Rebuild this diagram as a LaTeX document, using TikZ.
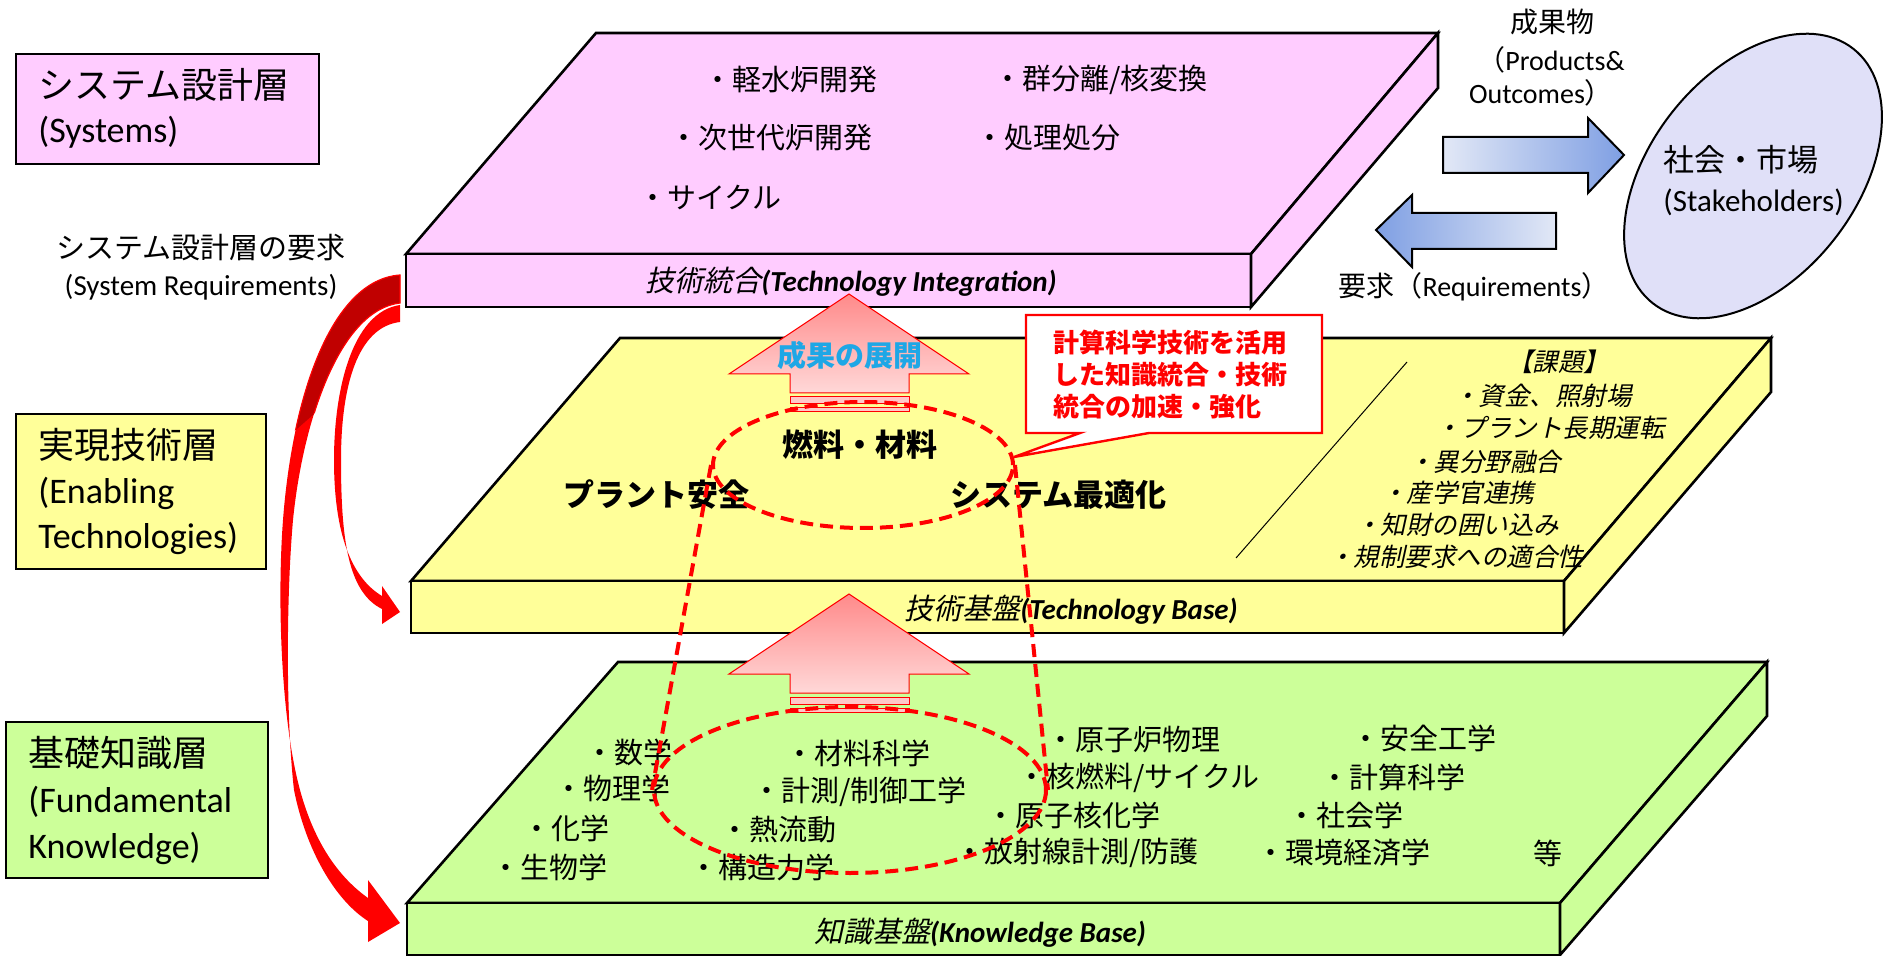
\documentclass[tikz,border=0pt]{standalone}
\usepackage{fontspec}
\setmainfont{Carlito}
\newfontfamily\jp{Noto Sans CJK JP}
\newfontfamily\jpi{Noto Sans CJK JP}[FakeSlant=0.22]
\usetikzlibrary{shapes.geometric}
\definecolor{pinkf}{HTML}{FFCCFF}
\definecolor{yelf}{HTML}{FFFF99}
\definecolor{grnf}{HTML}{CCFF99}
\definecolor{lav}{HTML}{E0E0F8}
\definecolor{bluedark}{HTML}{7F9FE3}
\definecolor{bluelight}{HTML}{E2E8F6}
\definecolor{darkred}{HTML}{C00000}
\definecolor{cyanb}{HTML}{1EA7E6}
\definecolor{arrowtop}{HTML}{FF8A8A}
\definecolor{arrowbot}{HTML}{FFD8D8}
\definecolor{stripef}{HTML}{FFC8C8}
\newcommand\fsA{\fontsize{14.5}{17}\selectfont}
\newcommand\fsB{\fontsize{18}{21}\selectfont}
\newcommand\fsC{\fontsize{15.5}{18}\selectfont}
\newcommand\fsD{\fontsize{13}{16}\selectfont}
\newcommand\fsE{\fontsize{12.75}{15}\selectfont}
\newcommand\fsF{\fontsize{14}{17}\selectfont}
\newcommand\arrowonepath{(400,275) .. controls (330,280) and (292,400) .. (283,520) .. controls (277,600) and (281,720) .. (300,790) .. controls (315,845) and (340,878) .. (368,898) -- (368,880) -- (400,923) -- (368,942) -- (368,921) .. controls (335,900) and (306,850) .. (294,790) .. controls (286,720) and (286,600) .. (293,520) .. controls (303,420) and (340,310) .. (400,303) -- cycle}
\begin{document}
\begin{tikzpicture}[x=0.5pt,y=-0.5pt,
  slab/.style={draw=black, line width=1.3pt, line join=miter},
  lbox/.style={draw=black, line width=1pt},
  txt/.style={inner sep=0pt, anchor=west, font=\jp\fsA},
  bigt/.style={inner sep=0pt, anchor=west, font=\fsB},
  flab/.style={inner sep=0pt, font=\fsA\bfseries\itshape},
  boldt/.style={inner sep=0pt, font=\jp\fsC\bfseries},
  kadai/.style={inner sep=0pt, anchor=west, font=\jpi\fsE},
  rdash/.style={draw=red, line width=2pt, dash pattern=on 6.5pt off 3.5pt},
  blockarr/.style={draw=red, line width=0.5pt, top color=arrowtop, bottom color=arrowbot},
  stripe/.style={draw=red, line width=0.5pt, fill=stripef},
  bluearr/.style={draw=black, line width=1pt}
]
\useasboundingbox (0,0) rectangle (1894,956);

% ---------- pink slab ----------
\coordinate (pA) at (406,254); \coordinate (pB) at (596,33);
\coordinate (pC) at (1438,33); \coordinate (pD) at (1251,254);
\coordinate (pE) at (1251,307); \coordinate (pG) at (1438,88);
\filldraw[slab, fill=pinkf] (pA) -- (pB) -- (pC) -- (pD) -- cycle;
\filldraw[slab, fill=pinkf] (pA) rectangle (pE);
\filldraw[slab, fill=pinkf] (pD) -- (pC) -- (pG) -- (pE) -- cycle;

% ---------- yellow slab ----------
\coordinate (yA) at (411,581); \coordinate (yB) at (620,338);
\coordinate (yC) at (1771,338); \coordinate (yD) at (1564,581);
\coordinate (yE) at (1564,633); \coordinate (yG) at (1771,392);
\filldraw[slab, fill=yelf] (yA) -- (yB) -- (yC) -- (yD) -- cycle;
\filldraw[slab, fill=yelf] (yA) rectangle (yE);
\filldraw[slab, fill=yelf] (yD) -- (yC) -- (yG) -- (yE) -- cycle;

% ---------- green slab ----------
\coordinate (gA) at (407,903); \coordinate (gB) at (618,662);
\coordinate (gC) at (1767,662); \coordinate (gD) at (1560,903);
\coordinate (gE) at (1560,955); \coordinate (gG) at (1767,716);
\filldraw[slab, fill=grnf] (gA) -- (gB) -- (gC) -- (gD) -- cycle;
\filldraw[slab, fill=grnf] (gA) rectangle (gE);
\filldraw[slab, fill=grnf] (gD) -- (gC) -- (gG) -- (gE) -- cycle;

% ---------- pink slab texts ----------
\node[txt] (p1) at (703,80) {・軽水炉開発};
\node[txt] (p2) at (993,80) {・群分離/核変換};
\node[txt] (p3) at (669,138) {・次世代炉開発};
\node[txt] (p4) at (975,138) {・処理処分};
\node[txt] (p5) at (638,197) {・サイクル};
\node[flab] (pl) at (851,282) {{\jpi\mdseries 技術統合}(Technology Integration)};

% ---------- yellow slab texts ----------
\node[boldt] (fuel) at (860,445) {燃料・材料};
\node[boldt, anchor=west] (plant) at (563,495) {プラント安全};
\node[boldt, anchor=west] (sysopt) at (950,495) {システム最適化};
\node[flab] (yl) at (1071,610) {{\jpi\mdseries 技術基盤}(Technology Base)};
\coordinate (dl1) at (1407,362); \coordinate (dl2) at (1236,558);
\draw[line width=0.5pt] (dl1) -- (dl2);
\node[kadai] (k0) at (1507,362) {【課題】};
\node[kadai] (k1) at (1453,396) {・資金、照射場};
\node[kadai] (k2) at (1435,428) {・プラント長期運転};
\node[kadai] (k3) at (1408,462) {・異分野融合};
\node[kadai] (k4) at (1381,493) {・産学官連携};
\node[kadai] (k5) at (1355,525) {・知財の囲い込み};
\node[kadai] (k6) at (1328,557) {・規制要求への適合性};

% ---------- green slab texts ----------
\node[txt] (g1) at (585,752) {・数学};
\node[txt] (g2) at (554,788) {・物理学};
\node[txt] (g3) at (522,828) {・化学};
\node[txt] (g4) at (491,867) {・生物学};
\node[txt] (g5) at (785,753) {・材料科学};
\node[txt] (g6) at (752,792) {・計測/制御工学};
\node[txt] (g7) at (720,830) {・熱流動};
\node[txt] (g8) at (689,867) {・構造力学};
\node[txt] (g9) at (1046,740) {・原子炉物理};
\node[txt] (g10) at (1017,778) {・核燃料/サイクル};
\node[txt] (g11) at (986,815) {・原子核化学};
\node[txt] (g12) at (955,853) {・放射線計測/防護};
\node[txt] (g13) at (1351,738) {・安全工学};
\node[txt] (g14) at (1320,777) {・計算科学};
\node[txt] (g15) at (1287,815) {・社会学};
\node[txt] (g16) at (1256,853) {・環境経済学};
\node[txt] (g17) at (1533,853) {等};
\node[flab] (gl) at (980,933) {{\jpi\mdseries 知識基盤}(Knowledge Base)};

% ---------- left label boxes ----------
\draw[lbox, fill=pinkf] (16,54) rectangle (319,164);
\node[bigt, font=\jp\fsB] (s1) at (38,85) {システム設計層};
\node[bigt] (s2) at (38,132) {(Systems)};
\draw[lbox, fill=yelf] (16,414) rectangle (266,569);
\node[bigt, font=\jp\fsB] (e1t) at (38,445) {実現技術層};
\node[bigt] (e2t) at (38,493) {(Enabling};
\node[bigt] (e3t) at (38,538) {Technologies)};
\draw[lbox, fill=grnf] (6,722) rectangle (268,878);
\node[bigt, font=\jp\fsB] (f1) at (28,753) {基礎知識層};
\node[bigt] (f2) at (28,802) {(Fundamental};
\node[bigt] (f3) at (28,848) {Knowledge)};
\node[inner sep=0pt, font=\jp\fsA] (req1) at (201,248) {システム設計層の要求};
\node[inner sep=0pt, font=\fsA] (req2) at (201,287) {(System Requirements)};

% ---------- red curved arrows ----------
\fill[red] \arrowonepath;
\begin{scope}
  \clip (250,260) -- (410,260) -- (410,330) -- (250,470) -- cycle;
  \filldraw[fill=darkred, draw=red, line width=0.6pt] \arrowonepath;
\end{scope}
\fill[red] (400,305) .. controls (352,312) and (334,390) .. (334,460) .. controls (334,535) and (352,578) .. (382,596) -- (382,586) -- (400,612) -- (382,624) -- (382,609) .. controls (348,592) and (341,540) .. (341,460) .. controls (341,385) and (358,327) .. (400,322) -- cycle;

% ---------- block arrows ----------
\path[blockarr] (849,294) -- (969,374) -- (909,374) -- (909,393) -- (790,393) -- (790,374) -- (729,374) -- cycle;
\filldraw[stripe] (790,397) rectangle (909,404);
\filldraw[stripe] (790,408) rectangle (909,412);
\node[inner sep=0pt, font=\jp\fsA\bfseries, text=cyanb] (tenkai) at (850,355) {成果の展開};
\path[blockarr] (849,594) -- (969,674) -- (909,674) -- (909,693) -- (790,693) -- (790,674) -- (729,674) -- cycle;
\filldraw[stripe] (790,697) rectangle (909,704);
\filldraw[stripe] (790,708) rectangle (909,712);

% ---------- dashed cylinder ----------
\node[ellipse, rdash, minimum width=150pt, minimum height=63pt, inner sep=0pt] (eup) at (863,465) {};
\node[ellipse, rdash, minimum width=196pt, minimum height=83pt, inner sep=0pt] (elo) at (850,790) {};
\draw[rdash] (eup.west) -- (elo.west);
\draw[rdash] (eup.east) -- (elo.east);

% ---------- callout ----------
\coordinate (ctip) at (1014,457);
\filldraw[draw=red, line width=1.2pt, fill=white] (1026,315) -- (1322,315) -- (1322,433) -- (1149,433) -- (ctip) -- (1080,433) -- (1026,433) -- cycle;
\node[inner sep=0pt, anchor=west, font=\jp\fsD\bfseries, text=red] (c1) at (1053,343) {計算科学技術を活用};
\node[inner sep=0pt, anchor=west, font=\jp\fsD\bfseries, text=red] (c2) at (1053,375) {した知識統合・技術};
\node[inner sep=0pt, anchor=west, font=\jp\fsD\bfseries, text=red] (c3) at (1053,407) {統合の加速・強化};

% ---------- right side ----------
\node[ellipse, draw=black, line width=1pt, fill=lav, minimum width=162pt, minimum height=103pt, inner sep=0pt, rotate=51.7] (stake) at (1753,176) {};
\node[inner sep=0pt, anchor=west, font=\jp\fsC] (st1) at (1663,160) {社会・市場};
\node[inner sep=0pt, anchor=west, font=\fsC] (st2) at (1663,202) {(Stakeholders)};
\path[bluearr, left color=bluelight, right color=bluedark] (1443,137) -- (1588,137) -- (1588,118) -- (1624,155) -- (1588,193) -- (1588,173) -- (1443,173) -- cycle;
\path[bluearr, left color=bluedark, right color=bluelight] (1376,230) -- (1412,195) -- (1412,213) -- (1556,213) -- (1556,249) -- (1412,249) -- (1412,267) -- cycle;
\node[inner sep=0pt, font=\jp\fsF] (o1) at (1552,22) {成果物};
\node[inner sep=0pt, font=\fsF] (o2) at (1551,60) {{\jp （}Products\&};
\node[inner sep=0pt, font=\fsF] (o3) at (1541,93) {Outcomes{\jp ）}};
\node[inner sep=0pt, font=\fsF] (rq) at (1474,287) {{\jp 要求（}Requirements{\jp ）}};
\end{tikzpicture}
\end{document}
